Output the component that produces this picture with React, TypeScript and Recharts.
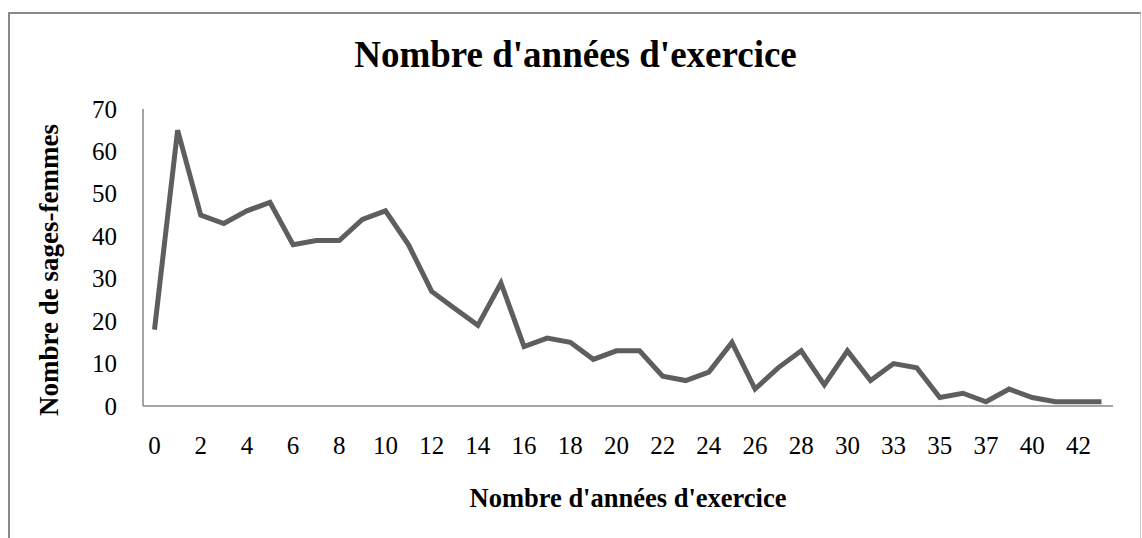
import React from 'react';
import { LineChart, Line, XAxis, YAxis } from 'recharts';

// Years of practice (category axis; some years are absent in the source)
const annees = [
  '0', '1', '2', '3', '4', '5', '6', '7', '8', '9', '10', '11', '12', '13', '14',
  '15', '16', '17', '18', '19', '20', '21', '22', '23', '24', '25', '26', '27',
  '28', '29', '30', '31', '33', '34', '35', '36', '37', '38', '40', '41', '42', '43',
];

// Number of midwives per year of practice
const sagesFemmes = [
  18, 65, 45, 43, 46, 48, 38, 39, 39, 44, 46, 38, 27, 23, 19,
  29, 14, 16, 15, 11, 13, 13, 7, 6, 8, 15, 4, 9,
  13, 5, 13, 6, 10, 9, 2, 3, 1, 4, 2, 1, 1, 1,
];

const yTicks = [0, 10, 20, 30, 40, 50, 60, 70];

const data = annees.map((a, i) => ({ annee: a, valeur: sagesFemmes[i] }));

const FONT = '"Liberation Serif", "Times New Roman", serif';
const AXIS_GREY = '#868686';

// serif tick labels, drawn by hand so the font is sure to stick
const XTick = (props: any) => {
  const { x, y, payload } = props;
  return (
    <text x={x} y={y} dy="0.68em" textAnchor="middle" fontFamily={FONT} fontSize={25} fill="#000">
      {payload.value}
    </text>
  );
};

const YTick = (props: any) => {
  const { x, y, payload } = props;
  return (
    <text x={x} y={y} dy="0.34em" textAnchor="end" fontFamily={FONT} fontSize={25} fill="#000">
      {payload.value}
    </text>
  );
};

export default function App() {
  return (
    <div
      style={{
        position: 'absolute',
        left: 0,
        top: 0,
        width: 1142,
        height: 538,
        overflow: 'hidden',
        background: '#fff',
        fontFamily: FONT,
      }}
    >
      {/* chart frame, bottom edge runs off the page */}
      <div
        style={{
          position: 'absolute',
          left: 8,
          top: 12,
          width: 1130,
          height: 600,
          borderLeft: '2px solid #8a8a8a',
          borderTop: '2px solid #8a8a8a',
          borderRight: '1px solid #c8c8c8',
        }}
      />
      <div style={{ position: 'absolute', left: 0, top: 0 }}>
        <LineChart width={1142} height={538} data={data} margin={{ top: 109, right: 29, bottom: 0, left: 0 }}>
          <XAxis
            dataKey="annee"
            type="category"
            interval={1}
            height={132}
            padding={{ left: 11.5, right: 11.5 }}
            axisLine={{ stroke: AXIS_GREY, strokeWidth: 1.5 }}
            tickLine={false}
            tickSize={8}
            tickMargin={23}
            tick={<XTick />}
          />
          <YAxis
            width={143}
            domain={[0, 70]}
            ticks={yTicks}
            interval={0}
            axisLine={{ stroke: AXIS_GREY, strokeWidth: 1.5 }}
            tickLine={false}
            tickSize={8}
            tickMargin={18}
            tick={<YTick />}
          />
          <Line
            type="linear"
            dataKey="valeur"
            stroke="#5e5e5e"
            strokeWidth={5}
            dot={false}
            activeDot={false}
            isAnimationActive={false}
          />
        </LineChart>
      </div>
      <svg
        width={1142}
        height={538}
        style={{ position: 'absolute', left: 0, top: 0, pointerEvents: 'none' }}
      >
        <text x={575.5} y={67} textAnchor="middle" fontSize={37} fontWeight="bold" fontFamily={FONT} fill="#000">
          Nombre d'années d'exercice
        </text>
        <text x={628} y={507} textAnchor="middle" fontSize={26.5} fontWeight="bold" fontFamily={FONT} fill="#000">
          Nombre d'années d'exercice
        </text>
        <text
          x={58}
          y={270}
          transform="rotate(-90 58 270)"
          textAnchor="middle"
          fontSize={27}
          fontWeight="bold"
          fontFamily={FONT}
          fill="#000"
        >
          Nombre de sages-femmes
        </text>
      </svg>
    </div>
  );
}
